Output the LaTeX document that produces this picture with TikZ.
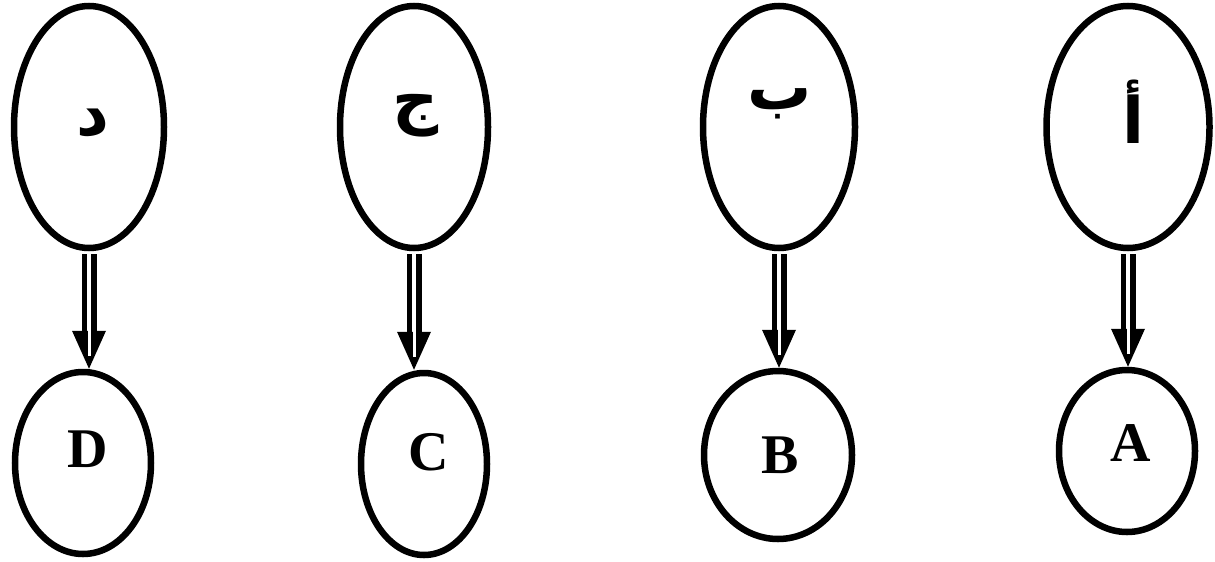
\documentclass[tikz,border=0pt]{standalone}
\usepackage{fontspec}
\usetikzlibrary{shapes.geometric,calc}
\TeXXeTstate=1
\newfontfamily\arabicfont[Script=Arabic]{DejaVu Sans}
\newfontfamily\serifletters{Liberation Serif}
\newcommand\darrow[2]{%
  \coordinate (tip#1) at (#1.south |- #2.north);
  \draw[shaft] (#1.south) -- ($(tip#1)+(0,-34)$);
  \fill (tip#1) -- ++(-17,-38) -- ++(34,0) -- cycle;
  \draw[white, line width=3pt] ($(tip#1)+(0,-40)$) -- ($(tip#1)+(0,-13)$);
}
\begin{document}
\begin{tikzpicture}[x=1pt,y=-1pt,
  ell/.style={draw, line width=6.5pt, ellipse, inner sep=0pt},
  shaft/.style={line width=5.5pt, double=white, double distance=4pt, shorten <=3pt},
  arlet/.style={font=\arabicfont\bfseries\fontsize{64}{66}\selectfont, inner sep=0pt},
  latlet/.style={font=\serifletters\bfseries\fontsize{56}{58}\selectfont, inner sep=0pt}]
\useasboundingbox (0,0) rectangle (1215,562);
% top ellipses
\node[ell, minimum width=150pt, minimum height=242pt] (t1) at (89,127) {};
\node[ell, minimum width=148pt, minimum height=242pt] (t2) at (414,127) {};
\node[ell, minimum width=152pt, minimum height=242pt] (t3) at (779,127) {};
\node[ell, minimum width=163pt, minimum height=242pt] (t4) at (1128,127) {};
% bottom ellipses
\node[ell, minimum width=136pt, minimum height=182pt] (b1) at (83,463) {};
\node[ell, minimum width=126pt, minimum height=182pt] (b2) at (424,464) {};
\node[ell, minimum width=148pt, minimum height=168pt] (b3) at (778,455) {};
\node[ell, minimum width=136pt, minimum height=162pt] (b4) at (1127,451) {};
% letters (isolated forms)
\node[arlet] (l1) at (93,123) {\beginR ^^^^fea9\endR};
\node[arlet] (l2) at (416,116) {\beginR ^^^^fe9d\endR};
\node[arlet] (l3) at (780,104) {\beginR ^^^^fe8f\endR};
\node[arlet] (l4) at (1133,112) {\beginR ^^^^fe83\endR};
\node[latlet] (m1) at (88,449) {D};
\node[latlet] (m2) at (429,452) {C};
\node[latlet] (m3) at (780,455) {B};
\node[latlet] (m4) at (1131,443) {A};
% arrows
\darrow{t1}{b1}
\darrow{t2}{b2}
\darrow{t3}{b3}
\darrow{t4}{b4}
\end{tikzpicture}
\end{document}
